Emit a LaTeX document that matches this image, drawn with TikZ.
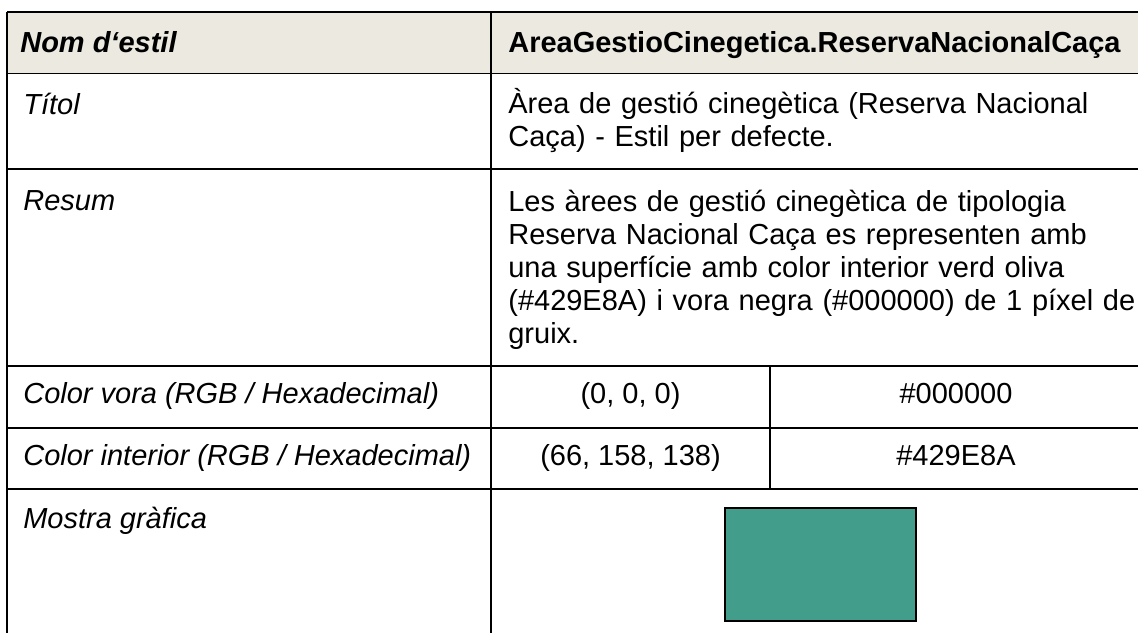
\documentclass[tikz,border=0pt]{standalone}
\usepackage{fontspec}
\setmainfont{Liberation Sans}
\usepackage{tikz}
\definecolor{headbg}{RGB}{236, 233, 224}
\definecolor{oliva}{RGB}{66, 158, 138}

\begin{document}
\begin{tikzpicture}[x=0.02cm, y=-0.02cm,
  gridline/.style={line width=1.1pt},
  txt/.style={anchor=base west, inner sep=0pt, align=left,
    font=\fontsize{16.5pt}{18.8pt}\selectfont},
  keycell/.style={txt, font=\fontsize{16.5pt}{18.8pt}\selectfont\itshape},
  headcell/.style={txt, font=\fontsize{16.5pt}{18.8pt}\selectfont\bfseries},
  valcell/.style={txt, text width=12.6cm},
  midcell/.style={txt, anchor=base},
  sample/.style={draw, fill=oliva, line width=1.1pt, minimum width=3.82cm,
    minimum height=2.26cm, inner sep=0pt}]

  \useasboundingbox (0, 0) rectangle (1138, 632);

  % header and rules
  \fill[headbg] (7, 12) rectangle (1145, 73.5);
  \foreach \y in {12, 73.5, 169, 366, 428, 489}
    \draw[gridline] (7, \y) -- (1145, \y);
  \draw[gridline] (7, 12) -- (7, 640);
  \draw[gridline] (491, 12) -- (491, 640);
  \draw[gridline] (770, 366) -- (770, 489);

  \node[headcell, font=\fontsize{16.5pt}{18.8pt}\selectfont\bfseries\itshape] (nom) at (20, 52) {Nom d‘estil};
  \node[headcell] (estil) at (508, 52) {AreaGestioCinegetica.ReservaNacionalCaça};

  \node[keycell] (titol) at (23, 114) {Títol};
  \node[valcell] (titolval) at (508, 113) {Àrea de gestió cinegètica (Reserva Nacional\\Caça) - Estil per defecte.};

  \node[keycell] (resum) at (23, 210) {Resum};
  \node[valcell] (resumval) at (508, 211) {Les àrees de gestió cinegètica de tipologia\\Reserva Nacional Caça es representen amb\\una superfície amb color interior verd oliva\\(\#429E8A) i vora negra (\#000000) de 1 píxel de\\gruix.};

  \node[keycell] (vora) at (23, 403) {Color vora (RGB / Hexadecimal)};
  \node[midcell] (voraRGB) at (630.5, 403) {(0, 0, 0)};
  \node[midcell] (voraHex) at (956, 403) {\#000000};

  \node[keycell] (interior) at (23, 465) {Color interior (RGB / Hexadecimal)};
  \node[midcell] (interiorRGB) at (630.5, 465) {(66, 158, 138)};
  \node[midcell] (interiorHex) at (956, 465) {\#429E8A};

  \node[keycell] (mostra) at (23, 528) {Mostra gràfica};
  \node[sample] (mostrabox) at (820.5, 564.5) {};

\end{tikzpicture}
\end{document}
